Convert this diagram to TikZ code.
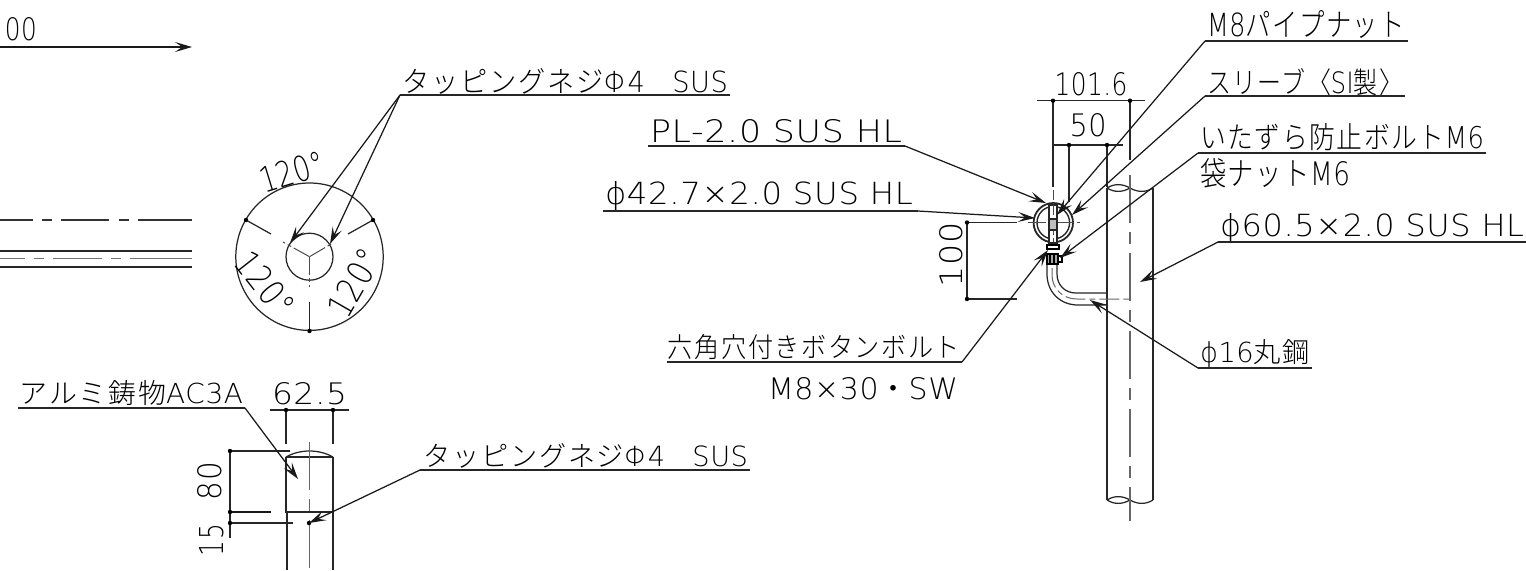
\documentclass[tikz,border=0pt]{standalone}
\usepackage{fontspec}
\usepackage{graphicx}
\setmainfont[LetterSpace=2]{DejaVu Sans ExtraLight}
\newfontfamily\jp[LetterSpace=6]{Noto Sans CJK JP Light}
\usetikzlibrary{arrows.meta}
\newlength{\pxu}\setlength{\pxu}{0.5pt}
\newcommand{\lbl}[6]{% name, cx, cy, w, h, text
  \node[txt] (#1) at (#2,#3) {\resizebox{#4\pxu}{#5\pxu}{#6}};}
\newcommand{\rlbl}[7]{% name, cx, cy, w, h, angle, text
  \node[txt,rotate=#6] (#1) at (#2,#3) {\resizebox{#4\pxu}{#5\pxu}{#7}};}
\tikzset{
  txt/.style={inner sep=0pt,outer sep=0pt,anchor=center},
  ln/.style={line width=0.62pt,black!85},
  leader/.style={line width=0.62pt,black!90,-{Stealth[length=8.5pt,width=5pt,inset=3.6pt]}},
  cen/.style={line width=0.6pt,black!60,dash pattern=on 24pt off 4.5pt on 6pt off 4.5pt},
  dot/.style={circle,fill=black,inner sep=0pt,minimum size=2.2pt}
}
\begin{document}
\begin{tikzpicture}[x=0.5pt,y=-0.5pt]
\useasboundingbox (0,0) rectangle (1526,570);
% ---- top-left
\lbl{t00}{21}{29.5}{32}{23}{00}
\coordinate (a0) at (0,47); \coordinate (a1) at (192,47);
\draw[leader] (a0) -- (a1);
\draw[line width=0.6pt,black!80] (0,220) -- (33,220) (42,220) -- (52,220) (61,220) -- (109,220) (119,220) -- (129,220) (138,220) -- (192,220);
\draw[ln] (0,251) -- (192,251) (0,267) -- (192,267);
\draw[line width=0.6pt,black!55] (0,258.7) -- (25,258.7) (34,258.7) -- (44,258.7) (53,258.7) -- (102,258.7) (111,258.7) -- (121,258.7) (130,258.7) -- (192,258.7);
% ---- circle view
\coordinate (cc) at (309.5,256.7);
\draw[ln] (cc) circle (73.7);
\draw[ln] (cc) circle (23.5);
\draw[line width=0.5pt,black!70,dash pattern=on 9pt off 1.5pt on 2pt off 1.5pt] (cc) -- (283,242);
\draw[line width=0.5pt,black!70,dash pattern=on 9pt off 1.5pt on 2pt off 1.5pt] (cc) -- (332,243.5);
\draw[line width=0.5pt,black!70,dash pattern=on 9pt off 1.5pt on 2pt off 1.5pt] (cc) -- (309.5,287);
\draw[ln] (309.5,302) -- (309.5,331);
\draw[ln] (348,234) -- (373,220);
\draw[ln] (271,234) -- (246,220);
\node[dot] (d1) at (309.5,331) {};
\node[dot] (d2) at (373,220) {};
\node[dot] (d3) at (246,220) {};
\rlbl{ang1}{292}{172}{66}{26}{17}{120°}
\rlbl{ang2}{265}{284}{72}{26}{-52}{120°}
\rlbl{ang3}{354}{283}{72}{26}{60}{120°}
\lbl{tap1}{565.5}{81}{325}{24}{\jp タッピングネジ\rmfamily Φ4\hspace{1em}SUS}
\coordinate (u1a) at (400,95); \coordinate (u1b) at (730,95);
\coordinate (tp1) at (290,243); \coordinate (tp2) at (330,244);
\draw[ln] (u1b) -- (u1a);
\draw[leader] (u1a) -- (tp1);
\draw[leader] (u1a) -- (tp2);
% ---- lower post
\draw[ln] (286,457) .. controls (300,449) and (319,449) .. (333,457);
\draw[ln] (286,457) -- (333,457);
\draw[ln] (286,457) -- (286,512) -- (333,512) -- (333,457);
\draw[ln] (287,512) -- (287,570) (333,512) -- (333,570);
\draw[cen] (309.5,442) -- (309.5,570);
\draw[ln] (286,410) -- (286,444) (333,410) -- (333,444);
\draw[ln] (270,410) -- (349,410);
\node[dot] (d4) at (286,410) {};
\node[dot] (d5) at (333,410) {};
\lbl{d625}{309.5}{394}{75}{22}{62.5}
\draw[ln] (230,451) -- (230,538);
\draw[ln] (230,451) -- (290,451) (230,523) -- (293,523);
\draw[line width=0.9pt,black!90] (230,512) -- (271,512);
\node[dot] (d6) at (230,451) {};
\node[dot] (d7) at (230,512) {};
\node[dot] (d8) at (230,523) {};
\rlbl{d80}{210}{481}{38}{24}{90}{80}
\rlbl{d15}{212}{540}{32}{24}{90}{15}
\lbl{alu}{131.5}{393.5}{223}{23}{\jp アルミ鋳物\rmfamily AC3A}
\coordinate (u2a) at (18,408); \coordinate (u2b) at (245,408); \coordinate (tp3) at (298,479);
\draw[ln] (u2a) -- (u2b);
\draw[leader] (u2b) -- (tp3);
\lbl{tap2}{586}{456}{324}{23}{\jp タッピングネジ\rmfamily Φ4\hspace{1em}SUS}
\coordinate (u3a) at (750,470); \coordinate (u3b) at (420,470); \node[dot] (tp4) at (309,523) {};
\draw[ln] (u3a) -- (u3b);
\draw[leader] (u3b) -- (tp4.center);
% ---- right: vertical pipe
\draw[ln] (1107,188) -- (1107,500) (1153,188) -- (1153,500);
\draw[ln] (1107,188) .. controls (1115,183) and (1123,184) .. (1130,188) .. controls (1137,192) and (1145,193) .. (1153,188);
\draw[ln] (1107,188) .. controls (1115,193) and (1123,192) .. (1130,188);
\draw[ln] (1107,500) .. controls (1115,495) and (1123,496) .. (1130,500) .. controls (1137,504) and (1145,505) .. (1153,500);
\draw[ln] (1107,500) .. controls (1115,505) and (1123,504) .. (1130,500);
\draw[cen] (1130,175) -- (1130,521);
% hook
\draw[ln] (1047,265) -- (1047,274) .. controls (1047,292) and (1060,305) .. (1078,305) -- (1107,305);
\draw[ln] (1057,265) -- (1057,274) .. controls (1057,285) and (1065,293) .. (1076,293) -- (1107,293);
\draw[line width=0.5pt,black!60,dash pattern=on 10pt off 2pt on 3pt off 2pt] (1052,268) -- (1052,275) .. controls (1052,288) and (1062,299) .. (1077,299) -- (1130,299);
% ring
\coordinate (rc) at (1053.3,222.7);
\draw[line width=0.9pt,black!85] (rc) circle (19.7);
\draw[line width=0.7pt,black!85] (rc) circle (16.3);
\draw[line width=0.5pt,black!70,dash pattern=on 9pt off 1.5pt on 2pt off 1.5pt] (1028,222.7) -- (1080,222.7);
\draw[line width=0.5pt,black!70,dash pattern=on 5pt off 1.5pt on 2pt off 1.5pt] (1053.3,190) -- (1053.3,245);
\draw[ln,fill=white] (1049,205) rectangle (1057,243);
\draw[line width=0.5pt,black!70,dash pattern=on 5pt off 1.5pt on 2pt off 1.5pt] (1053,205) -- (1053,243);
\draw[ln,fill=black!25] (1049,219) rectangle (1057,230);
\draw[line width=0.9pt] (1047,245) rectangle (1059,249);
\draw[line width=0.9pt,fill=black!35] (1047,254) rectangle (1058,264);
\draw[line width=0.9pt] (1058,256) -- (1062,256) -- (1062,262) -- (1058,262);
\draw[line width=0.8pt] (1050,254) -- (1050,264) (1054,254) -- (1054,264);
\draw[ln] (1053,100) -- (1053,187);
\draw[ln] (1130,100) -- (1130,160);
\draw[ln] (1037,100.7) -- (1145,100.7);
\node[dot] (d9) at (1053,100.7) {};
\node[dot] (d10) at (1130,100.7) {};
\draw[ln] (1069,145) -- (1069,202);
\draw[ln] (1107,145) -- (1107,187);
\draw[ln] (1054,145) -- (1123,145);
\node[dot] (d11) at (1069,145) {};
\node[dot] (d12) at (1107,145) {};
\lbl{d1016}{1091}{84.5}{73}{23}{101.6}
\lbl{d50}{1088}{125.5}{37}{23}{50}
\draw[ln] (967,222.5) -- (1017,222.5) (967,299) -- (1017,299);
\draw[ln] (967,222.5) -- (967,299);
\node[dot] (d13) at (967,222.5) {};
\node[dot] (d14) at (967,299) {};
\rlbl{d100}{951}{254.5}{65}{23}{90}{100}
% labels left
\lbl{pl}{776}{131.5}{252}{23}{PL-2.0 SUS HL}
\coordinate (p1) at (648,146); \coordinate (p2) at (905,146); \coordinate (tp5) at (1046,203);
\draw[ln] (p1) -- (p2); \draw[leader] (p2) -- (tp5);
\lbl{ph}{759}{196.5}{308}{23}{ϕ42.7×2.0 SUS HL}
\coordinate (q1) at (603,211); \coordinate (q2) at (918,211); \coordinate (tp6) at (1035,218);
\draw[ln] (q1) -- (q2); \draw[leader] (q2) -- (tp6);
\lbl{hex}{814}{347.5}{292}{23}{\jp 六角穴付きボタンボルト}
\lbl{m8}{863}{389}{190}{22}{M8×30\jp ・\rmfamily SW}
\coordinate (h1) at (667,362); \coordinate (h2) at (962,362); \coordinate (tp7) at (1048,250);
\draw[ln] (h1) -- (h2); \draw[leader] (h2) -- (tp7);
% labels right
\lbl{pn}{1306}{25}{198}{26}{M8\jp パイプナット}
\coordinate (r1) at (1408,41); \coordinate (r2) at (1205,41); \coordinate (tp8) at (1057,215);
\draw[ln] (r1) -- (r2); \draw[leader] (r2) -- (tp8);
\lbl{sl}{1305}{82.5}{196}{25}{\jp スリーブ〈\rmfamily SI\jp 製〉}
\coordinate (s1) at (1405,96); \coordinate (s2) at (1205,96); \coordinate (tp9) at (1072,215);
\draw[ln] (s1) -- (s2); \draw[leader] (s2) -- (tp9);
\lbl{it}{1342}{137.5}{284}{25}{\jp いたずら防止ボルト\rmfamily M6}
\lbl{fk}{1275}{173.5}{150}{27}{\jp 袋ナット\rmfamily M6}
\coordinate (i1) at (1486,153); \coordinate (i2) at (1198,153); \coordinate (tp10) at (1060,258);
\draw[ln] (i1) -- (i2); \draw[leader] (i2) -- (tp10);
\lbl{p60}{1372}{228.5}{304}{23}{ϕ60.5×2.0 SUS HL}
\coordinate (v1) at (1526,242); \coordinate (v2) at (1218,242); \coordinate (tp11) at (1140,282);
\draw[ln] (v1) -- (v2); \draw[leader] (v2) -- (tp11);
\lbl{p16}{1255}{353.5}{110}{23}{ϕ16\jp 丸鋼}
\coordinate (w1) at (1312,368); \coordinate (w2) at (1198,368); \coordinate (tp12) at (1090,300);
\draw[ln] (w1) -- (w2); \draw[leader] (w2) -- (tp12);
\end{tikzpicture}
\end{document}
